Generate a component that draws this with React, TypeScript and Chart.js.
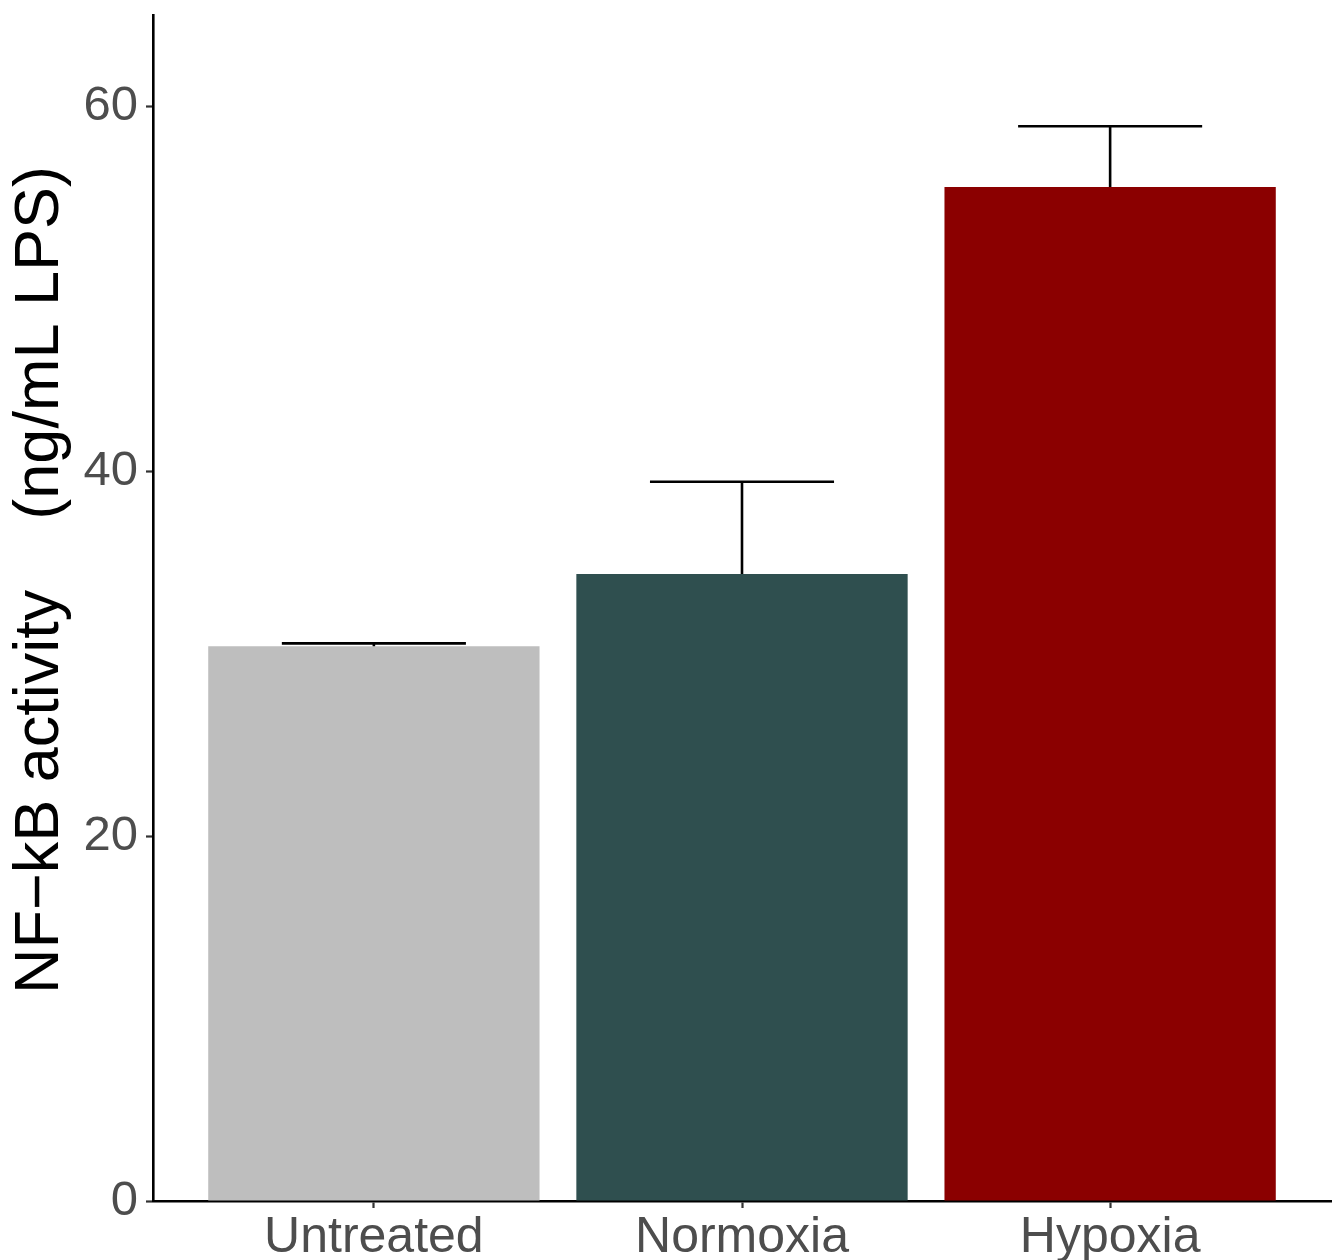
import React, { useEffect, useRef } from "react";
import { Chart, registerables } from "chart.js";

Chart.register(...registerables);

const categories = ["Untreated", "Normoxia", "Hypoxia"];
const meanValues = [30.4, 34.37, 55.58];
const upperValues = [30.56, 39.42, 58.9];
const barColors = ["#BEBEBE", "#2F4F4F", "#8B0000"];
const yTicks = [0, 20, 40, 60];
const yTitle = "NF\u2212kB activity    (ng/mL LPS)";

const FONT = "'Liberation Sans', Arial, Helvetica, sans-serif";

const errorBarPlugin = {
  id: "errorBars",
  afterDatasetsDraw(chart: any) {
    const { ctx, scales } = chart;
    const xs = scales.x;
    const ys = scales.y;
    ctx.save();
    ctx.strokeStyle = "#000000";
    ctx.lineWidth = 2.6;
    ctx.lineCap = "butt";
    for (let i = 0; i < categories.length; i++) {
      const cx = xs.getPixelForValue(i + 1);
      const yb = ys.getPixelForValue(meanValues[i]);
      const yt = ys.getPixelForValue(upperValues[i]);
      const xl = xs.getPixelForValue(i + 1 - 0.25);
      const xr = xs.getPixelForValue(i + 1 + 0.25);
      ctx.beginPath();
      ctx.moveTo(cx, yb);
      ctx.lineTo(cx, yt);
      ctx.moveTo(xl, yt);
      ctx.lineTo(xr, yt);
      ctx.stroke();
    }
    ctx.restore();
  },
};

const yTitlePlugin = {
  id: "yTitle",
  afterDraw(chart: any) {
    const { ctx } = chart;
    ctx.save();
    ctx.translate(41, 580);
    ctx.rotate(-Math.PI / 2);
    ctx.font = `63px ${FONT}`;
    ctx.fillStyle = "#000000";
    ctx.textAlign = "center";
    ctx.textBaseline = "middle";
    ctx.fillText(yTitle, 0, 0);
    ctx.restore();
  },
};

export default function App() {
  const ref = useRef<HTMLCanvasElement | null>(null);

  useEffect(() => {
    document.body.style.margin = "0";
    const canvas = ref.current;
    if (!canvas) return;
    const chart = new Chart(canvas, {
      type: "bar",
      data: {
        datasets: [
          {
            data: categories.map((c, i) => ({ x: i + 1, y: meanValues[i] })),
            backgroundColor: barColors,
            borderWidth: 0,
            barPercentage: 0.9,
            categoryPercentage: 1.0,
          },
        ],
      },
      options: {
        animation: false,
        responsive: false,
        maintainAspectRatio: false,
        layout: { padding: { top: 15, right: 6, left: 0, bottom: 0 } },
        plugins: {
          legend: { display: false },
          tooltip: { enabled: false },
        },
        scales: {
          x: {
            type: "linear",
            min: 0.4,
            max: 3.6,
            offset: false,
            afterBuildTicks: (scale: any) => {
              scale.ticks = categories.map((_, i) => ({ value: i + 1 }));
            },
            afterFit: (scale: any) => {
              scale.height = 59;
              scale.paddingLeft = 0;
              scale.paddingRight = 0;
            },
            ticks: {
              autoSkip: false,
              maxRotation: 0,
              callback: (v: any) => categories[Math.round(v) - 1] ?? "",
              color: "#4D4D4D",
              font: { family: FONT, size: 50 },
              padding: 0,
            },
            grid: {
              display: true,
              offset: false,
              drawOnChartArea: false,
              drawTicks: true,
              tickLength: 7,
              tickColor: "#333333",
              tickWidth: 2.2,
            },
            border: { display: true, color: "#000000", width: 2.6 },
          },
          y: {
            type: "linear",
            min: 0,
            max: 65,
            afterBuildTicks: (scale: any) => {
              scale.ticks = yTicks.map((v) => ({ value: v }));
            },
            afterFit: (scale: any) => {
              scale.width = 153;
              scale.paddingTop = 0;
              scale.paddingBottom = 0;
            },
            ticks: {
              color: "#4D4D4D",
              font: { family: FONT, size: 49 },
              padding: 8,
            },
            grid: {
              display: true,
              offset: false,
              drawOnChartArea: false,
              drawTicks: true,
              tickLength: 7,
              tickColor: "#333333",
              tickWidth: 2.2,
            },
            border: { display: true, color: "#000000", width: 2.6 },
          },
        },
      },
      plugins: [errorBarPlugin, yTitlePlugin],
    } as any);
    return () => chart.destroy();
  }, []);

  return (
    <div style={{ position: "absolute", left: 0, top: 0, width: 1337, height: 1260, background: "#ffffff" }}>
      <canvas ref={ref} width={1337} height={1260} style={{ width: 1337, height: 1260, display: "block" }} />
    </div>
  );
}
